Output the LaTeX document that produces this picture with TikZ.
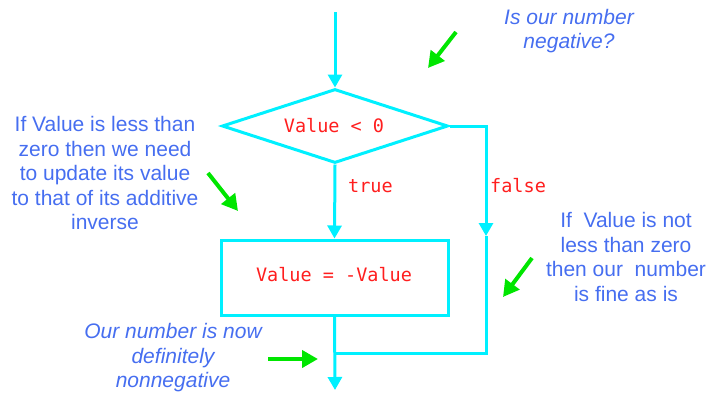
\documentclass[tikz,border=0pt]{standalone}
\usepackage{fontspec}
\setmainfont{Liberation Sans}
\newfontfamily\codefont{DejaVu Sans Mono}
\usetikzlibrary{shapes.geometric,arrows.meta}
\definecolor{flowcyan}{RGB}{0,240,255}
\definecolor{codered}{RGB}{255,30,30}
\definecolor{noteblue}{RGB}{70,110,240}
\definecolor{pointgreen}{RGB}{0,230,0}
\tikzset{
  flow/.style={draw=flowcyan, line width=3pt},
  flowarrow/.style={flow, -{Triangle[width=14pt,length=13pt]}},
  code/.style={text=codered, font=\codefont\fontsize{18.5}{20}\selectfont, inner sep=0pt},
  note/.style={text=noteblue, font=\fontsize{21}{24.5}\selectfont, align=center, inner sep=0pt},
  inote/.style={note, font=\fontsize{21}{24.5}\selectfont\itshape},
  pointer/.style={draw=pointgreen, line width=4pt, -{Triangle[width=17pt,length=16pt]}},
}
\begin{document}
\begin{tikzpicture}[x=1pt,y=-1pt]
\useasboundingbox (0,0) rectangle (711,394);
% nodes
\node[flow, shape=diamond, aspect=3, minimum width=226pt, minimum height=74pt, inner sep=0pt] (D) at (335,126) {};
\node[code] (Dtext) at (334,126) {Value < 0};
\node[flow, rectangle, minimum width=227pt, minimum height=75pt, inner sep=0pt] (R) at (334.5,277.5) {};
\node[code] (Rtext) at (334,275) {Value = -Value};
\node[code, anchor=west] (ltrue) at (348,186) {true};
\node[code, anchor=west] (lfalse) at (490,186) {false};
% coordinates
\coordinate (start) at (335,12);
\coordinate (c1) at (486,126);
\coordinate (c2) at (486,236);
\coordinate (c3) at (486,353);
\coordinate (merge) at (335,353);
\coordinate (finish) at (335,390);
% connectors
\draw[flowarrow] (start) -- (D.north);
\draw[flowarrow] (D.south) -- (R.north);
\draw[flowarrow] (D.east) -- (c1) -- (c2);
\draw[flow] (c2) -- (c3) -- (merge);
\draw[flowarrow] (R.south) -- (finish);
% notes
\node[inote] (n1) at (569,31) {Is our number\\negative?};
\node[note] (n2) at (105,173) {If Value is less than\\zero then we need\\to update its value\\to that of its additive\\inverse};
\node[note] (n3) at (626,257) {If\ \ Value is not\\less than zero\\then our\ \ number\\is fine as is};
\node[inote] (n4) at (173,358) {Our number is now\\definitely\\nonnegative};
% pointers
\coordinate (g1s) at (456,32); \coordinate (g1e) at (428,68);
\coordinate (g2s) at (208,173); \coordinate (g2e) at (238,211);
\coordinate (g3s) at (532,258); \coordinate (g3e) at (503,297);
\coordinate (g4s) at (268,359); \coordinate (g4e) at (318,359);
\draw[pointer] (g1s) -- (g1e);
\draw[pointer] (g2s) -- (g2e);
\draw[pointer] (g3s) -- (g3e);
\draw[pointer] (g4s) -- (g4e);
\end{tikzpicture}
\end{document}
